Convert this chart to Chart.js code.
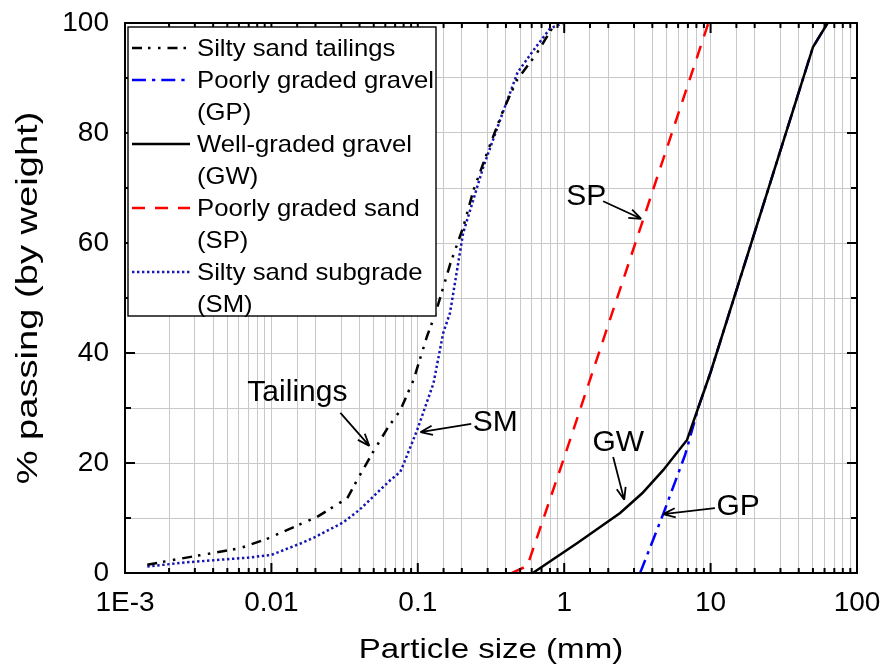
<!DOCTYPE html>
<html lang="en">
<head>
  <meta charset="UTF-8">
  <title>Particle size distribution</title>
  <script src="https://cdn.jsdelivr.net/npm/chart.js"></script>
  <style>
    html, body { margin: 0; padding: 0; background: #fff; }
    #wrap { width: 888px; height: 670px; }
  </style>
</head>
<body>
<div id="wrap"><canvas id="gradation" width="888" height="670"></canvas></div>
<script>
  // sieve / hydrometer results: particle size (mm) vs percent passing
  const tailingsSize = [0.00142, 0.00227, 0.0061, 0.0095, 0.0205, 0.033, 0.0385, 0.0495, 0.062, 0.076, 0.0935, 0.1155, 0.132, 0.167, 0.205, 0.24, 0.313, 0.384, 0.475, 0.65, 0.87];
  const tailingsPass = [1.5, 2.5, 4.5, 6.3, 10.2, 13.6, 16.9, 22, 26.3, 29.6, 35.1, 43, 47.2, 56.3, 63, 69.6, 78, 84.2, 89.6, 94.5, 100];

  const gpSize = [3.3, 4.74, 6.7, 8.3, 10, 50, 63];
  const gpPass = [0, 10.7, 21.5, 30.3, 36.5, 95.6, 100];

  const gwSize = [0.61, 1.23, 2.41, 3.41, 4.74, 6.9, 10, 50, 63];
  const gwPass = [0, 5.45, 10.9, 14.5, 18.7, 24.2, 36.5, 95.6, 100];

  const spSize = [0.44, 0.56, 1, 9.66];
  const spPass = [0, 1.3, 21, 100];

  const smSize = [0.00142, 0.0028, 0.007, 0.01, 0.0163, 0.0194, 0.031, 0.04, 0.051, 0.065, 0.076, 0.0805, 0.099, 0.128, 0.149, 0.166, 0.204, 0.28, 0.384, 0.48, 0.615, 0.8, 0.98];
  const smPass = [1.2, 2, 2.8, 3.3, 5.5, 6.4, 9.2, 11.5, 14.2, 16.9, 18.4, 20, 26, 34.5, 43.6, 47.3, 61.8, 73.8, 84, 91, 95, 99, 100];

  // axis labels
  const xTickValues = [0.001, 0.01, 0.1, 1, 10, 100];
  const xTickLabels = ['1E-3', '0.01', '0.1', '1', '10', '100'];
  const yTickLabels = [0, 20, 40, 60, 80, 100];

  // legend text, one array of lines per entry
  const legendText = [
    ['Silty sand tailings'],
    ['Poorly graded gravel', '(GP)'],
    ['Well-graded gravel', '(GW)'],
    ['Poorly graded sand', '(SP)'],
    ['Silty sand subgrade', '(SM)']
  ];

  // callouts: label position, arrow start, arrow tip (data units)
  const noteText = ['Tailings', 'SM', 'SP', 'GW', 'GP'];
  const noteAt = [[0.01505, 32.7], [0.338, 27.3], [1.413, 68.4], [2.34, 23.6], [15.4, 12]];
  const arrowFrom = [[0.0296, 29.1], [0.2317, 27.1], [1.845, 67.6], [2.16, 21.1], [10.7, 11.8]];
  const arrowTo = [[0.0467, 23.1], [0.104, 25.6], [3.36, 64.4], [2.57, 13.3], [4.74, 10.7]];

  const FONT = "'Liberation Sans', Arial, sans-serif";

  const pts = (xs, ys) => xs.map((x, i) => ({ x: x, y: ys[i] }));

  // line styles, in legend order
  const styles = [
    { color: '#000000', dash: [10, 6, 2.5, 7.5, 2.5, 7] },
    { color: '#0000ff', dash: [14, 6, 3.3, 6] },
    { color: '#000000', dash: [] },
    { color: '#ff0000', dash: [13, 10] },
    { color: '#1515b0', dash: [2.4, 2.6] }
  ];

  function line(data, st) {
    return {
      data: data,
      borderColor: st.color,
      borderWidth: 2.5,
      borderDash: st.dash,
      borderCapStyle: 'butt',
      pointRadius: 0,
      tension: 0,
      fill: false
    };
  }

  function stretchedText(ctx, text, x, y, size, sx, align) {
    ctx.save();
    ctx.font = size + 'px ' + FONT;
    ctx.translate(x, y);
    ctx.scale(sx, 1);
    ctx.textAlign = align;
    ctx.textBaseline = 'alphabetic';
    ctx.fillText(text, 0, 0);
    ctx.restore();
  }

  const isDecade = v => {
    const e = Math.log10(v);
    return Math.abs(e - Math.round(e)) < 1e-6;
  };

  // black frame with inward tick marks on all four sides
  const frame = {
    id: 'frame',
    afterDatasetsDraw(chart) {
      const { ctx, chartArea: a, scales: { x, y } } = chart;
      ctx.save();
      ctx.strokeStyle = '#000';
      ctx.lineWidth = 2;
      ctx.beginPath();
      x.ticks.forEach(t => {
        const px = x.getPixelForValue(t.value);
        const len = isDecade(t.value) ? 10 : 5;
        ctx.moveTo(px, a.bottom); ctx.lineTo(px, a.bottom - len);
        ctx.moveTo(px, a.top); ctx.lineTo(px, a.top + len);
      });
      y.ticks.forEach(t => {
        const py = y.getPixelForValue(t.value);
        const len = yTickLabels.includes(t.value) ? 10 : 6;
        ctx.moveTo(a.left, py); ctx.lineTo(a.left + len, py);
        ctx.moveTo(a.right, py); ctx.lineTo(a.right - len, py);
      });
      ctx.stroke();
      ctx.strokeRect(a.left, a.top, a.right - a.left, a.bottom - a.top);
      ctx.restore();
    }
  };

  // legend box, callouts and axis titles
  const extras = {
    id: 'extras',
    afterDraw(chart) {
      const { ctx, chartArea: a, scales: { x, y } } = chart;
      ctx.save();

      // legend
      ctx.fillStyle = '#fff';
      ctx.fillRect(128, 27, 308, 289);
      ctx.strokeStyle = '#000';
      ctx.lineWidth = 1.4;
      ctx.strokeRect(128, 27, 308, 289);
      ctx.fillStyle = '#000';
      let row = 0;
      legendText.forEach((lines, i) => {
        const base = 56 + row * 32;
        const st = styles[i];
        ctx.save();
        ctx.strokeStyle = st.color;
        ctx.lineWidth = 2.5;
        ctx.lineCap = 'butt';
        ctx.setLineDash(st.dash);
        ctx.beginPath();
        ctx.moveTo(132, base - 8);
        ctx.lineTo(190, base - 8);
        ctx.stroke();
        ctx.restore();
        lines.forEach(txt => {
          stretchedText(ctx, txt, 197, 56 + row * 32, 24, 1.07, 'left');
          row++;
        });
      });

      // callouts
      ctx.strokeStyle = '#000';
      ctx.lineWidth = 1.8;
      ctx.font = '30px ' + FONT;
      ctx.textAlign = 'center';
      ctx.textBaseline = 'middle';
      noteText.forEach((txt, i) => {
        ctx.fillText(txt, x.getPixelForValue(noteAt[i][0]), y.getPixelForValue(noteAt[i][1]));
        const x0 = x.getPixelForValue(arrowFrom[i][0]);
        const y0 = y.getPixelForValue(arrowFrom[i][1]);
        const x1 = x.getPixelForValue(arrowTo[i][0]);
        const y1 = y.getPixelForValue(arrowTo[i][1]);
        const ang = Math.atan2(y1 - y0, x1 - x0);
        ctx.beginPath();
        ctx.moveTo(x0, y0);
        ctx.lineTo(x1, y1);
        [-1, 1].forEach(s => {
          const h = ang + Math.PI + s * 0.36;
          ctx.moveTo(x1, y1);
          ctx.lineTo(x1 + 13 * Math.cos(h), y1 + 13 * Math.sin(h));
        });
        ctx.stroke();
      });

      // axis titles
      stretchedText(ctx, 'Particle size (mm)', (a.left + a.right) / 2, 658, 28, 1.18, 'center');
      ctx.save();
      ctx.translate(37, (a.top + a.bottom) / 2);
      ctx.rotate(-Math.PI / 2);
      stretchedText(ctx, '% passing (by weight)', 0, 0, 30, 1.27, 'center');
      ctx.restore();

      ctx.restore();
    }
  };

  new Chart(document.getElementById('gradation'), {
    type: 'line',
    data: {
      datasets: [
        line(pts(tailingsSize, tailingsPass), styles[0]),
        line(pts(gwSize, gwPass), styles[2]),
        line(pts(gpSize, gpPass), styles[1]),
        line(pts(spSize, spPass), styles[3]),
        line(pts(smSize, smPass), styles[4])
      ]
    },
    options: {
      responsive: false,
      animation: false,
      layout: { padding: { top: 23, right: 31, left: 0, bottom: 0 } },
      plugins: { legend: { display: false }, tooltip: { enabled: false } },
      scales: {
        x: {
          type: 'logarithmic',
          min: 0.001,
          max: 100,
          afterFit(s) {
            s.height = 97;
            s.paddingLeft = 0;
            s.paddingRight = 0;
          },
          grid: { color: '#c8c8c8', lineWidth: 1, drawTicks: false },
          border: { display: false },
          ticks: {
            autoSkip: false,
            maxRotation: 0,
            padding: 13,
            color: '#000',
            font: { family: FONT, size: 28 },
            callback(v) {
              const i = xTickValues.findIndex(d => Math.abs(d - v) / d < 1e-6);
              return i >= 0 ? xTickLabels[i] : '';
            }
          }
        },
        y: {
          min: 0,
          max: 100,
          afterFit(s) {
            s.width = 125;
            s.paddingTop = 0;
            s.paddingBottom = 0;
          },
          grid: { color: '#c8c8c8', lineWidth: 1, drawTicks: false },
          border: { display: false },
          ticks: {
            stepSize: 10,
            padding: 16,
            color: '#000',
            font: { family: FONT, size: 28 },
            callback(v) { return yTickLabels.includes(v) ? String(v) : ''; }
          }
        }
      }
    },
    plugins: [frame, extras]
  });
</script>
</body>
</html>
